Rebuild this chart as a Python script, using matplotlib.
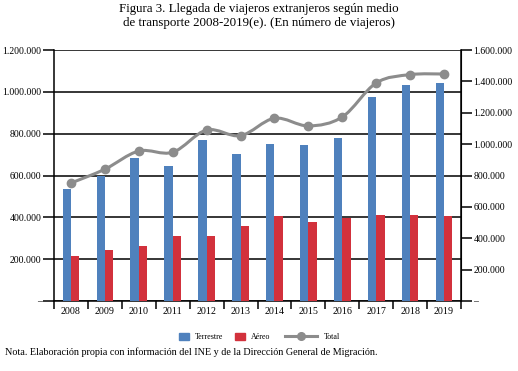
import numpy as np
import matplotlib.pyplot as plt
from matplotlib.path import Path
from matplotlib.patches import PathPatch, Patch
from matplotlib.lines import Line2D
from matplotlib.ticker import FuncFormatter

plt.rcParams['font.family'] = ['Liberation Serif', 'DejaVu Serif']

years = ['2008', '2009', '2010', '2011', '2012', '2013',
         '2014', '2015', '2016', '2017', '2018', '2019']
terrestre = [535000, 599000, 685000, 645000, 770000, 703000,
             751000, 746000, 779000, 975000, 1033000, 1042000]
aereo = [215000, 244000, 263000, 311000, 311000, 359000,
         406000, 378000, 397000, 411000, 411000, 406000]
total = [752000, 840000, 956000, 948000, 1090000, 1054000,
         1165000, 1116000, 1173000, 1390000, 1443000, 1447000]

blue = '#4f81bd'
red = '#d2313c'
gray = '#8c8c8c'


def miles(v, pos):
    if v == 0:
        return '–'
    return f'{int(v):,}'.replace(',', '.')


fig = plt.figure(figsize=(5.18, 3.71), dpi=100)
ax = fig.add_axes([54 / 518, 1 - 301 / 371, (461 - 54) / 518, (301 - 50) / 371])
ax2 = ax.twinx()

x = np.arange(len(years))
w = 0.245
ax.bar(x - w / 2, terrestre, w, color=blue, zorder=3)
ax.bar(x + w / 2, aereo, w, color=red, zorder=3)

ax.set_xlim(-0.5, len(years) - 0.5)
ax.set_ylim(0, 1200000)
ax.set_yticks(np.arange(0, 1200001, 200000))
ax.yaxis.set_major_formatter(FuncFormatter(miles))
ax.grid(axis='y', color='black', linewidth=1.1, zorder=0)
ax.set_axisbelow(True)
ax.tick_params(axis='y', length=8, width=1.1, labelsize=7, pad=1)
ax.set_xticks(x)
ax.set_xticklabels(years)
ax.set_xticks(np.arange(-0.5, len(years)), minor=True)
ax.tick_params(axis='x', which='major', length=0, labelsize=7.2, pad=4)
ax.tick_params(axis='x', which='minor', length=6, width=1.1, direction='out')
ax.spines['top'].set_visible(False)
ax.spines['left'].set_linewidth(1.1)
ax.spines['bottom'].set_linewidth(1.1)

ax2.set_ylim(0, 1600000)
ax2.set_yticks(np.arange(0, 1600001, 200000))
ax2.yaxis.set_major_formatter(FuncFormatter(miles))
ax2.tick_params(axis='y', length=8, width=1.1, labelsize=7, pad=1)
ax2.spines['top'].set_visible(False)
ax2.spines['right'].set_linewidth(1.1)
ax2.spines['left'].set_visible(False)
ax2.spines['bottom'].set_visible(False)

# smoothed total line (cubic bezier through the points)
pts = np.column_stack([x, total]).astype(float)
verts = [pts[0]]
codes = [Path.MOVETO]
n = len(pts)
for i in range(n - 1):
    p0 = pts[max(i - 1, 0)]
    p1 = pts[i]
    p2 = pts[i + 1]
    p3 = pts[min(i + 2, n - 1)]
    c1 = p1 + (p2 - p0) / 6
    c2 = p2 - (p3 - p1) / 6
    verts += [c1, c2, p2]
    codes += [Path.CURVE4] * 3
ax2.add_patch(PathPatch(Path(verts, codes), facecolor='none', edgecolor=gray,
                        linewidth=2.2, zorder=4))
ax2.plot(x, total, 'o', color=gray, markersize=6, zorder=5)

fig.text(0.5, 1 - 9 / 371, 'Figura 3. Llegada de viajeros extranjeros según medio',
         ha='center', va='center', fontsize=9.3)
fig.text(0.5, 1 - 23 / 371, 'de transporte 2008-2019(e). (En número de viajeros)',
         ha='center', va='center', fontsize=9.3)

# legend: squares for the bars, long handle for the line
bar_handles = [Patch(color=blue, label='Terrestre'),
               Patch(color=red, label='Aéreo')]
fig.legend(handles=bar_handles, loc='center left',
           bbox_to_anchor=(172 / 518, 1 - 337 / 371), ncol=2, frameon=False,
           fontsize=5.8, handlelength=1.15, handleheight=1.0,
           columnspacing=1.5, handletextpad=0.8)
line_handle = [Line2D([], [], color=gray, linewidth=2.2, marker='o', markersize=5.5,
                      label='Total')]
fig.legend(handles=line_handle, loc='center left',
           bbox_to_anchor=(278 / 518, 1 - 337 / 371), frameon=False,
           fontsize=5.8, handlelength=4.0, handletextpad=0.8)

fig.text(5 / 518, 1 - 352 / 371,
         'Nota. Elaboración propia con información del INE y de la Dirección General de Migración.',
         ha='left', va='center', fontsize=7.3)

fig.savefig('out.png', dpi=100)
